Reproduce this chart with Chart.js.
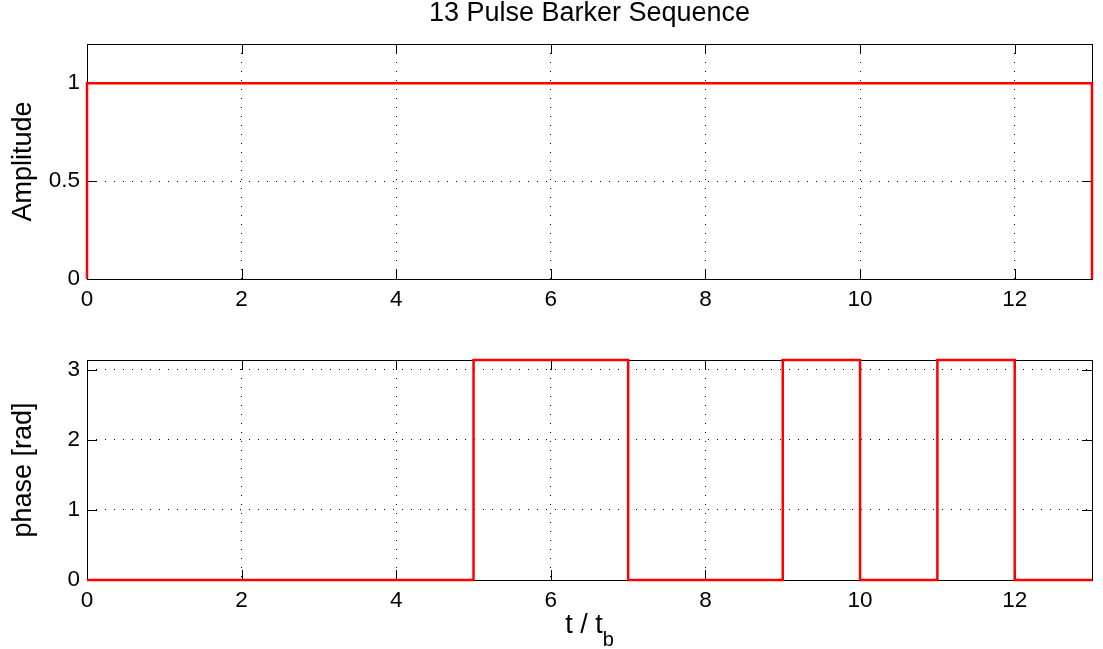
<!DOCTYPE html>
<html>
<head>
<meta charset="utf-8">
<title>13 Pulse Barker Sequence</title>
<script src="https://cdn.jsdelivr.net/npm/chart.js@4.4.1/dist/chart.umd.min.js"></script>
<style>
  html, body { margin: 0; padding: 0; background: #fff; }
  #wrap { position: relative; width: 1103px; height: 649px; overflow: hidden; }
  canvas { position: absolute; left: 0; }
  #amp { top: 0; }
  #phase { top: 320px; }
</style>
</head>
<body>
<div id="wrap">
  <canvas id="amp" width="1103" height="320"></canvas>
  <canvas id="phase" width="1103" height="329"></canvas>
</div>
<script>
// chip edges of the 13 chip Barker code, in units of t_b
const chipEdges = [0, 1, 2, 3, 4, 5, 6, 7, 8, 9, 10, 11, 12, 13];
const chipAmplitude = [1, 1, 1, 1, 1, 1, 1, 1, 1, 1, 1, 1, 1];
const chipPhase = [0, 0, 0, 0, 0, Math.PI, Math.PI, 0, 0, Math.PI, 0, Math.PI, 0];

// tick labels
const xTicks = [0, 2, 4, 6, 8, 10, 12];
const ampTicks = [0, 0.5, 1];
const phaseTicks = [0, 1, 2, 3];

Chart.defaults.font.family = "'Liberation Sans', Arial, Helvetica, sans-serif";
Chart.defaults.color = '#000';

// turn chip values into the corner points of a square wave
function squareWave(values, closeToZero) {
    var pts = [];
    if (closeToZero) pts.push({x: chipEdges[0], y: 0});
    for (var i = 0; i < values.length; i++) {
        pts.push({x: chipEdges[i], y: values[i]});
        pts.push({x: chipEdges[i + 1], y: values[i]});
    }
    if (closeToZero) pts.push({x: chipEdges[chipEdges.length - 1], y: 0});
    return pts;
}

// matlab style box with inward ticks on all four sides
const boxAndTicks = {
    id: 'boxAndTicks',
    beforeDatasetsDraw(chart) {
        const ctx = chart.ctx;
        const a = chart.chartArea;
        const xs = chart.scales.x, ys = chart.scales.y;
        const len = 10;
        ctx.save();
        ctx.strokeStyle = '#000';
        ctx.lineWidth = 1;
        ctx.beginPath();
        xs.ticks.forEach(function(t) {
            const px = Math.round(xs.getPixelForValue(t.value)) + 0.5;
            ctx.moveTo(px, a.bottom); ctx.lineTo(px, a.bottom - len);
            ctx.moveTo(px, a.top); ctx.lineTo(px, a.top + len);
        });
        ys.ticks.forEach(function(t) {
            const py = Math.round(ys.getPixelForValue(t.value)) + 0.5;
            ctx.moveTo(a.left, py); ctx.lineTo(a.left + len, py);
            ctx.moveTo(a.right, py); ctx.lineTo(a.right - len, py);
        });
        ctx.stroke();
        ctx.strokeRect(Math.round(a.left) + 0.5, Math.round(a.top) + 0.5,
                       Math.round(a.right - a.left), Math.round(a.bottom - a.top));
        ctx.restore();
    }
};

// x label with subscript: t / t_b
const xLabel = {
    id: 'xLabel',
    afterDraw(chart) {
        const ctx = chart.ctx;
        const a = chart.chartArea;
        const fam = Chart.defaults.font.family;
        ctx.save();
        ctx.fillStyle = '#000';
        ctx.textBaseline = 'alphabetic';
        ctx.font = '27px ' + fam;
        const w1 = ctx.measureText('t / t').width;
        ctx.font = '20px ' + fam;
        const w2 = ctx.measureText('b').width;
        const x0 = (a.left + a.right) / 2 - (w1 + w2) / 2;
        ctx.font = '27px ' + fam;
        ctx.fillText('t / t', x0, a.bottom + 53);
        ctx.font = '20px ' + fam;
        ctx.fillText('b', x0 + w1, a.bottom + 66);
        ctx.restore();
    }
};

function xScale(height) {
    return {
        type: 'linear',
        min: 0,
        max: 13,
        afterBuildTicks: function(s) { s.ticks = xTicks.map(function(v) { return {value: v}; }); },
        afterFit: function(s) { s.height = height; },
        ticks: {
            padding: 7,
            maxRotation: 0,
            autoSkip: false,
            font: {size: 22.5},
            callback: function(v) { return String(v); }
        },
        grid: {color: '#000', lineWidth: 1, drawTicks: false},
        border: {display: false, dash: [1, 8]}
    };
}

function yScale(max, tickList, label) {
    return {
        type: 'linear',
        min: 0,
        max: max,
        afterBuildTicks: function(s) { s.ticks = tickList.map(function(v) { return {value: v}; }); },
        afterFit: function(s) { s.width = 87; },
        ticks: {
            padding: 7,
            autoSkip: false,
            font: {size: 22.5},
            callback: function(v) { return String(v); }
        },
        grid: {color: '#000', lineWidth: 1, drawTicks: false},
        border: {display: false, dash: [1, 8]},
        title: {
            display: true,
            text: label,
            font: {size: 27},
            padding: {top: 7, bottom: 0}
        }
    };
}

function lineDataset(points) {
    return {
        data: points,
        borderColor: '#ff0000',
        borderWidth: 2.5,
        pointRadius: 0,
        fill: false,
        tension: 0,
        clip: false
    };
}

new Chart(document.getElementById('amp'), {
    type: 'line',
    data: {datasets: [lineDataset(squareWave(chipAmplitude, true))]},
    options: {
        responsive: false,
        animation: false,
        devicePixelRatio: 1,
        layout: {padding: {top: 0, right: 11, left: 0, bottom: 0}},
        scales: {
            x: xScale(41),
            y: yScale(1.2, ampTicks, 'Amplitude')
        },
        plugins: {
            legend: {display: false},
            tooltip: {enabled: false},
            title: {
                display: true,
                text: '13 Pulse Barker Sequence',
                fullSize: false,
                color: '#000',
                font: {size: 27, weight: 'normal', lineHeight: 1},
                padding: {top: 0.5, bottom: 16.5}
            }
        }
    },
    plugins: [boxAndTicks]
});

new Chart(document.getElementById('phase'), {
    type: 'line',
    data: {datasets: [lineDataset(squareWave(chipPhase, false))]},
    options: {
        responsive: false,
        animation: false,
        devicePixelRatio: 1,
        layout: {padding: {top: 40, right: 11, left: 0, bottom: 0}},
        scales: {
            x: xScale(69),
            y: yScale(Math.PI, phaseTicks, 'phase [rad]')
        },
        plugins: {
            legend: {display: false},
            tooltip: {enabled: false}
        }
    },
    plugins: [boxAndTicks, xLabel]
});
</script>
</body>
</html>
